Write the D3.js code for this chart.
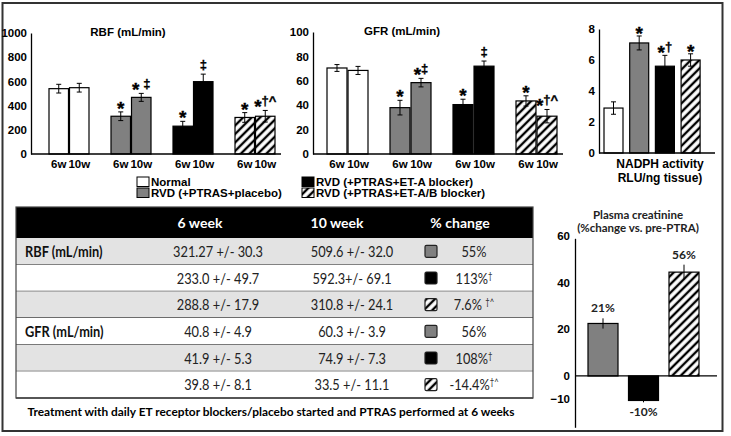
<!DOCTYPE html>
<html><head><meta charset="utf-8">
<script src="https://cdn.jsdelivr.net/npm/d3@7"></script>
<style>body{margin:0;background:#fff}svg{display:block}.mk{opacity:0.999}</style>
</head><body>
<svg id="c" width="731" height="436"></svg>
<script>
// ---------- data ----------
const groups = ["Normal", "RVD (+PTRAS+placebo)", "RVD (+PTRAS+ET-A blocker)", "RVD (+PTRAS+ET-A/B blocker)"];
const weeks = ["6w", "10w"];

const rbfTicks = [0, 200, 400, 600, 800, 1000];
const rbf6 = [540, 312, 230, 302];
const rbf10 = [548, 468, 598, 312];
const rbfErr6 = [36, 36, 40, 40];
const rbfErr10 = [36, 33, 62, 48];
const rbfMarks6 = ["", "*", "*", "*"];
const rbfMarks10 = ["", "* \u2021", "\u2021", "*\u2020^"];

const gfrTicks = [0, 20, 40, 60, 80, 100];
const gfr6 = [70.5, 38, 40.5, 43.5];
const gfr10 = [68.5, 58.5, 72, 31];
const gfrErr6 = [2.8, 6, 4.4, 4.2];
const gfrErr10 = [3.3, 3.5, 4.2, 5.5];
const gfrMarks6 = ["", "*", "*", "*"];
const gfrMarks10 = ["", "*\u2021", "\u2021", "*\u2020^"];

const nadphTicks = [0, 2, 4, 6, 8];
const nadph = [2.9, 7.1, 5.6, 6.0];
const nadphErr = [0.4, 0.45, 0.7, 0.4];
const nadphMarks = ["", "*", "*\u2020", "*"];

const creatGroups = groups.slice(1);
const creatTicks = [60, 40, 20, 0, -10];
const creat = [22.5, -10.5, 44.5];
const creatErr = [2.2, 0.8, 3.2];
const creatLabels = ["21%", "-10%", "56%"];

const tableHeaders = ["6 week", "10 week", "% change"];
const tableParams = ["RBF (mL/min)", "", "", "GFR (mL/min)", "", ""];
const tableWeek6 = ["321.27 +/- 30.3", "233.0 +/- 49.7", "288.8 +/- 17.9", "40.8 +/- 4.9", "41.9 +/- 5.3", "39.8 +/- 8.1"];
const tableWeek10 = ["509.6 +/- 32.0", "592.3+/- 69.1", "310.8 +/- 24.1", "60.3 +/- 3.9", "74.9 +/- 7.3", "33.5 +/- 11.1"];
const tableGroup = [1, 2, 3, 1, 2, 3];
const tableChange = ["55%", "113%", "7.6% ", "56%", "108%", "-14.4%"];
const tableChangeSup = ["", "\u2020", "\u2020^", "", "\u2020", "\u2020^"];
const footnote = "Treatment with daily ET receptor blockers/placebo started and PTRAS performed at 6 weeks";

// ---------- setup ----------
const svg = d3.select("#c");
const defs = svg.append("defs");
const pat = defs.append("pattern").attr("id", "hatch").attr("patternUnits", "userSpaceOnUse")
  .attr("width", 6).attr("height", 6).attr("patternTransform", "rotate(45)");
pat.append("rect").attr("width", 6).attr("height", 6).attr("fill", "#fff");
pat.append("line").attr("x1", 3).attr("y1", 0).attr("x2", 3).attr("y2", 6)
  .attr("stroke", "#000").attr("stroke-width", 2.4);

const fills = d3.scaleOrdinal().domain(groups).range(["#fff", "#808080", "#000", "url(#hatch)"]);
const AR = "'Liberation Sans', Arial, sans-serif";
const CAL = "Lato, 'Open Sans', sans-serif";

svg.append("rect").attr("x", 2.5).attr("y", 3).attr("width", 720).attr("height", 428)
  .attr("fill", "#fff").attr("stroke", "#333").attr("stroke-width", 2);

function bandFrom(domain, start, step, bw) {
  const p = 1 - bw / step;
  const r0 = start - p / 2 * step;
  return d3.scaleBand().domain(domain).range([r0, r0 + domain.length * step])
    .paddingInner(p).paddingOuter(p / 2);
}

function yAxis(g, y, ticks, x) {
  const ax = g.append("g").attr("transform", `translate(${x},0)`)
    .call(d3.axisLeft(y).tickValues(ticks).tickSize(0).tickPadding(4).tickFormat(d3.format("d")));
  ax.select(".domain").attr("stroke", "#000").attr("stroke-width", 1.3);
  ax.selectAll("text").attr("font-family", AR).attr("font-weight", "bold").attr("font-size", 11.5).attr("fill", "#000");
  return ax;
}

function errBar(g, cx, yTop, yBot) {
  g.append("line").attr("x1", cx).attr("x2", cx).attr("y1", yTop).attr("y2", yBot).attr("stroke", "#000").attr("stroke-width", 1);
  g.append("line").attr("x1", cx - 2.5).attr("x2", cx + 2.5).attr("y1", yTop).attr("y2", yTop).attr("stroke", "#000").attr("stroke-width", 1);
  g.append("line").attr("x1", cx - 2.5).attr("x2", cx + 2.5).attr("y1", yBot).attr("y2", yBot).attr("stroke", "#000").attr("stroke-width", 1);
}

// significance marks: large asterisks shifted down to sit level with daggers
function mark(g, cx, errTop, txt) {
  if (!txt) return;
  const t = g.append("text").attr("class", "mk").attr("x", cx).attr("y", errTop - 5).attr("text-anchor", "middle")
    .attr("font-family", AR).attr("font-weight", "bold").attr("fill", "#000")
    .attr("stroke", "#000").attr("stroke-width", 0.35);
  let shift = 0;
  for (const ch of txt) {
    const star = ch === "*";
    const target = star ? 8 : 0;
    t.append("tspan").attr("dy", target - shift).attr("font-size", star ? 19 : 13).text(ch);
    shift = target;
  }
}

function pairChart(o) {
  const g = svg.append("g");
  const y = d3.scaleLinear().domain([0, o.max]).range([o.y0, o.y1]);
  const xg = bandFrom(groups, o.start, o.step, o.bw * 2 + 1);
  const xw = d3.scaleBand().domain(weeks).range([0, o.bw * 2 + 1]).paddingInner(0.05);
  const vals = [o.v6, o.v10], errs = [o.e6, o.e10], marks = [o.m6, o.m10];
  groups.forEach((grp, i) => {
    weeks.forEach((w, j) => {
      const x = xg(grp) + xw(w), bw = xw.bandwidth(), v = vals[j][i], e = errs[j][i];
      g.append("rect").attr("x", x).attr("y", y(v)).attr("width", bw).attr("height", y(0) - y(v))
        .attr("fill", fills(grp)).attr("stroke", "#000").attr("stroke-width", 1.2);
      errBar(g, x + bw / 2, y(v + e), y(v - e));
      mark(g, x + bw / 2, y(v + e), marks[j][i]);
      g.append("text").attr("x", x + bw / 2).attr("y", o.y0 + 14).attr("text-anchor", "middle")
        .attr("font-family", AR).attr("font-weight", "bold").attr("font-size", 11.5).text(w);
    });
  });
  yAxis(g, y, o.ticks, o.axisX);
  g.append("line").attr("x1", o.axisX).attr("x2", o.axisEnd).attr("y1", o.y0).attr("y2", o.y0).attr("stroke", "#000").attr("stroke-width", 1.3);
  g.append("text").attr("x", o.titleX).attr("y", y(o.max) + 3).attr("text-anchor", "middle")
    .attr("font-family", AR).attr("font-weight", "bold").attr("font-size", 11.5).text(o.title);
}

pairChart({start: 49, step: 62, bw: 19.5, max: 1000, y0: 154, y1: 33, ticks: rbfTicks, axisX: 31, axisEnd: 281,
  v6: rbf6, v10: rbf10, e6: rbfErr6, e10: rbfErr10, m6: rbfMarks6, m10: rbfMarks10, title: "RBF (mL/min)", titleX: 128});
pairChart({start: 327, step: 63, bw: 20, max: 100, y0: 154, y1: 32, ticks: gfrTicks, axisX: 313, axisEnd: 563,
  v6: gfr6, v10: gfr10, e6: gfrErr6, e10: gfrErr10, m6: gfrMarks6, m10: gfrMarks10, title: "GFR (mL/min)", titleX: 402});

// legend
const legend = svg.append("g");
groups.forEach((grp, i) => {
  const col = Math.floor(i / 2), row = i % 2;
  const lx = col === 0 ? 137 : 302, ly = 177 + row * 11;
  legend.append("rect").attr("x", lx).attr("y", ly).attr("width", 12).attr("height", 9.5)
    .attr("fill", fills(grp)).attr("stroke", "#000").attr("stroke-width", 1);
  legend.append("text").attr("x", lx + 14).attr("y", ly + 9).attr("font-family", AR).attr("font-weight", "bold")
    .attr("font-size", 11.5).text(grp);
});

// NADPH
(function () {
  const g = svg.append("g");
  const y = d3.scaleLinear().domain([0, 8]).range([153, 29]);
  const x = bandFrom(groups, 604, 25.7, 19);
  groups.forEach((grp, i) => {
    const v = nadph[i], e = nadphErr[i], cx = x(grp) + x.bandwidth() / 2;
    g.append("rect").attr("x", x(grp)).attr("y", y(v)).attr("width", x.bandwidth()).attr("height", y(0) - y(v))
      .attr("fill", fills(grp)).attr("stroke", "#000").attr("stroke-width", 1.2);
    errBar(g, cx, y(v + e), y(v - e));
    mark(g, cx, y(v + e) + 1, nadphMarks[i]);
  });
  yAxis(g, y, nadphTicks, 599);
  g.append("line").attr("x1", 599).attr("x2", 715).attr("y1", 153).attr("y2", 153).attr("stroke", "#000").attr("stroke-width", 1.3);
  g.append("text").attr("x", 660).attr("y", 168).attr("text-anchor", "middle").attr("font-family", AR)
    .attr("font-weight", "bold").attr("font-size", 12).text("NADPH activity");
  g.append("text").attr("x", 660).attr("y", 181.5).attr("text-anchor", "middle").attr("font-family", AR)
    .attr("font-weight", "bold").attr("font-size", 12).text("RLU/ng tissue)");
})();

// Plasma creatinine
(function () {
  const g = svg.append("g");
  const y = d3.scaleLinear().domain([-22, 59]).range([427.3, 238.3]);
  const x = bandFrom(creatGroups, 588, 40.5, 30);
  creatGroups.forEach((grp, i) => {
    const v = creat[i], e = creatErr[i], cx = x(grp) + x.bandwidth() / 2;
    g.append("rect").attr("x", x(grp)).attr("y", Math.min(y(v), y(0))).attr("width", x.bandwidth())
      .attr("height", Math.abs(y(0) - y(v))).attr("fill", fills(grp)).attr("stroke", "#000").attr("stroke-width", 1.2);
    g.append("line").attr("x1", cx).attr("x2", cx).attr("y1", y(v + e)).attr("y2", y(v - e)).attr("stroke", "#000").attr("stroke-width", 1);
    const ly = v >= 0 ? y(v + e) - 6 : y(v - e) + 14;
    g.append("text").attr("x", cx).attr("y", ly).attr("text-anchor", "middle").attr("font-family", CAL)
      .attr("font-weight", "bold").attr("font-size", 12).attr("fill", "#222").text(creatLabels[i]);
  });
  const ax = g.append("g").attr("transform", "translate(575,0)")
    .call(d3.axisLeft(y).tickValues(creatTicks).tickSize(0).tickPadding(5));
  ax.select(".domain").attr("stroke", "#000").attr("stroke-width", 1.3);
  ax.selectAll("text").attr("font-family", AR).attr("font-weight", "bold").attr("font-size", 11.5).attr("fill", "#000");
  g.append("line").attr("x1", 575).attr("x2", 717).attr("y1", y(0)).attr("y2", y(0)).attr("stroke", "#000").attr("stroke-width", 1.3);
  g.append("text").attr("x", 638).attr("y", 218.5).attr("text-anchor", "middle").attr("font-family", CAL)
    .attr("font-weight", "bold").attr("font-size", 11.5).attr("fill", "#222").text("Plasma creatinine");
  g.append("text").attr("x", 638).attr("y", 232).attr("text-anchor", "middle").attr("font-family", CAL)
    .attr("font-weight", "bold").attr("font-size", 11.5).attr("fill", "#222").text("(%change vs. pre-PTRA)");
})();

// Table
(function () {
  const g = svg.append("g");
  const left = 16, right = 533, top = 207, headH = 31, bottom = 398, fs = 15;
  // horizontal squeeze so the body text matches the narrow face of the original
  const probe = g.append("text").attr("font-family", CAL).attr("font-size", fs).text(tableWeek6[0]);
  const sx = Math.min(1, 90 / probe.node().getComputedTextLength());
  probe.remove();
  const rows = d3.scaleBand().domain(d3.range(tableParams.length)).range([top + headH, bottom]);
  g.append("rect").attr("x", left).attr("y", top).attr("width", right - left).attr("height", headH).attr("fill", "#000");
  const headX = [200, 337, 460];
  tableHeaders.forEach((h, i) => {
    g.append("text").attr("x", headX[i]).attr("y", top + headH / 2 + 5).attr("text-anchor", "middle")
      .attr("font-family", CAL).attr("font-weight", "bold").attr("font-size", 14).attr("fill", "#fff").text(h);
  });
  function cell(x, y, anchor, bold) {
    return g.append("text").attr("transform", `translate(${x},${y}) scale(${sx},1)`).attr("text-anchor", anchor)
      .attr("font-family", CAL).attr("font-weight", bold ? "bold" : "normal").attr("font-size", fs)
      .attr("fill", bold ? "#111" : "#222");
  }
  tableParams.forEach((p, i) => {
    const ry = rows(i), rh = rows.bandwidth(), cy = ry + rh / 2 + 5.5;
    g.append("rect").attr("x", left).attr("y", ry).attr("width", right - left).attr("height", rh)
      .attr("fill", i % 2 === 0 ? "#e3e3e3" : "#fff");
    g.append("line").attr("x1", left).attr("x2", right).attr("y1", ry + rh).attr("y2", ry + rh)
      .attr("stroke", "#444").attr("stroke-width", 1.3);
    if (p) cell(25, cy, "start", true).text(p);
    cell(218, cy, "middle").text(tableWeek6[i]);
    cell(352, cy, "middle").text(tableWeek10[i]);
    g.append("rect").attr("x", 425).attr("y", ry + rh / 2 - 6).attr("width", 12).attr("height", 12).attr("rx", 1.5)
      .attr("fill", fills(groups[tableGroup[i]])).attr("stroke", "#222").attr("stroke-width", 1.2);
    const t = cell(474, cy, "middle");
    t.append("tspan").text(tableChange[i]);
    if (tableChangeSup[i]) t.append("tspan").attr("dy", -5).attr("font-size", 9).text(tableChangeSup[i]);
  });
  g.append("rect").attr("x", left).attr("y", top).attr("width", right - left).attr("height", bottom - top)
    .attr("fill", "none").attr("stroke", "#444").attr("stroke-width", 1.2);
  g.append("text").attr("x", 271).attr("y", 416).attr("text-anchor", "middle").attr("font-family", CAL)
    .attr("font-weight", "bold").attr("font-size", 11.9).attr("fill", "#000").text(footnote);
})();
</script>
</body></html>
